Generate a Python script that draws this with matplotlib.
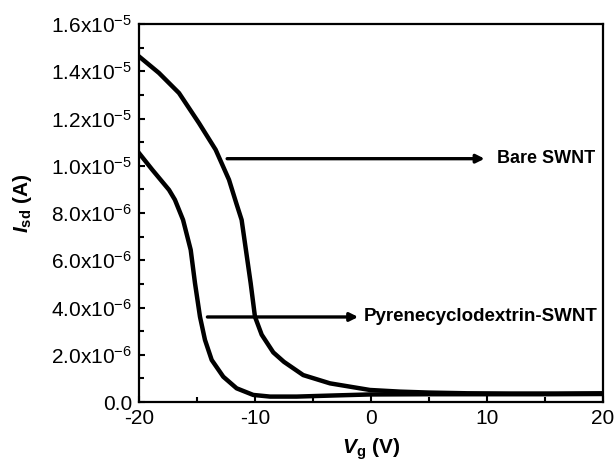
import matplotlib
matplotlib.use('Agg')
import matplotlib.pyplot as plt
from matplotlib.ticker import FixedLocator, FuncFormatter, MultipleLocator

plt.rcParams['font.family'] = ['Liberation Sans', 'DejaVu Sans']
plt.rcParams['mathtext.fontset'] = 'custom'
plt.rcParams['mathtext.rm'] = 'Liberation Sans'
plt.rcParams['mathtext.it'] = 'Liberation Sans:italic'
plt.rcParams['mathtext.bf'] = 'Liberation Sans:bold'
plt.rcParams['mathtext.bfit'] = 'Liberation Sans:bold:italic'

# gate voltage (V) and source-drain current (x1e-6 A)
bare_vg = [-20, -18.28, -16.55, -14.83, -13.39, -12.24, -11.6, -11.15, -10.78,
           -10.37, -10.0, -9.42, -8.42, -7.5, -5.84, -3.53, -0.09, 2.5, 5,
           8.3, 12, 16, 20]
bare_isd = [14.63, 13.93, 13.08, 11.81, 10.68, 9.41, 8.4, 7.71, 6.44,
            5.03, 3.61, 2.85, 2.1, 1.70, 1.14, 0.79, 0.51, 0.44, 0.40,
            0.37, 0.36, 0.36, 0.37]
pyrene_vg = [-20, -18.85, -17.41, -16.9, -16.2, -15.83, -15.54, -15.17, -14.74,
             -14.31, -13.73, -12.73, -11.58, -10.15, -8.7, -6.4, -3, -0.09,
             5, 10, 15, 20]
pyrene_isd = [10.54, 9.83, 8.98, 8.56, 7.71, 7.0, 6.44, 5.03, 3.61,
              2.63, 1.78, 1.07, 0.58, 0.30, 0.23, 0.23, 0.28, 0.32,
              0.33, 0.33, 0.33, 0.34]
bare_isd = [v * 1e-6 for v in bare_isd]
pyrene_isd = [v * 1e-6 for v in pyrene_isd]

x_ticks = [-20, -10, 0, 10, 20]
y_ticks = [0, 2e-6, 4e-6, 6e-6, 8e-6, 1e-5, 1.2e-5, 1.4e-5, 1.6e-5]
y_tick_labels = ['0.0', r'$\mathrm{2.0x10^{-6}}$', r'$\mathrm{4.0x10^{-6}}$',
                 r'$\mathrm{6.0x10^{-6}}$', r'$\mathrm{8.0x10^{-6}}$',
                 r'$\mathrm{1.0x10^{-5}}$', r'$\mathrm{1.2x10^{-5}}$',
                 r'$\mathrm{1.4x10^{-5}}$', r'$\mathrm{1.6x10^{-5}}$']

fig = plt.figure(figsize=(6.16, 4.63), dpi=100)
ax = fig.add_axes([0.2256, 0.1317, 0.7532, 0.8164])

ax.plot(bare_vg, bare_isd, color='black', lw=3.2, solid_joinstyle='round')
ax.plot(pyrene_vg, pyrene_isd, color='black', lw=3.2, solid_joinstyle='round')

ax.set_xlim(-20, 20)
ax.set_ylim(0, 1.6e-5)
ax.xaxis.set_major_locator(FixedLocator(x_ticks))
ax.xaxis.set_minor_locator(MultipleLocator(5))
ax.yaxis.set_major_locator(FixedLocator(y_ticks))
ax.yaxis.set_minor_locator(MultipleLocator(1e-6))
ax.yaxis.set_major_formatter(FuncFormatter(
    lambda v, pos: y_tick_labels[pos] if pos is not None and pos < len(y_tick_labels) else ''))
ax.xaxis.set_major_formatter(FuncFormatter(lambda v, pos: '%d' % v))

ax.tick_params(which='both', direction='in', top=False, right=False,
               width=1.5, labelsize=15)
ax.tick_params(which='major', length=4.5, pad=5)
ax.tick_params(which='minor', length=3.5)
for sp in ax.spines.values():
    sp.set_linewidth(1.6)

arrow = dict(arrowstyle='-|>', color='black', lw=2.4, mutation_scale=12,
             shrinkA=0, shrinkB=0)
ax.annotate('', xy=(9.8, 1.03e-5), xytext=(-12.4, 1.03e-5), arrowprops=arrow)
ax.text(10.9, 1.03e-5, 'Bare SWNT', fontsize=13, fontweight='bold',
        va='center', ha='left')
ax.annotate('', xy=(-1.1, 3.6e-6), xytext=(-14.1, 3.6e-6), arrowprops=arrow)
ax.text(-0.6, 3.6e-6, 'Pyrenecyclodextrin-SWNT', fontsize=13.5,
        fontweight='bold', va='center', ha='left')

fig.text(371 / 616, 1 - 449 / 463, r'$\mathbfit{V}_{\mathbf{g}}$ (V)',
         fontsize=15, fontweight='bold', ha='center', va='center')
fig.text(22 / 616, 1 - 203 / 463, r'$\mathbfit{I}_{\mathbf{sd}}$ (A)',
         fontsize=15, fontweight='bold', ha='center', va='center',
         rotation=90)

fig.savefig('out.png', dpi=100)
